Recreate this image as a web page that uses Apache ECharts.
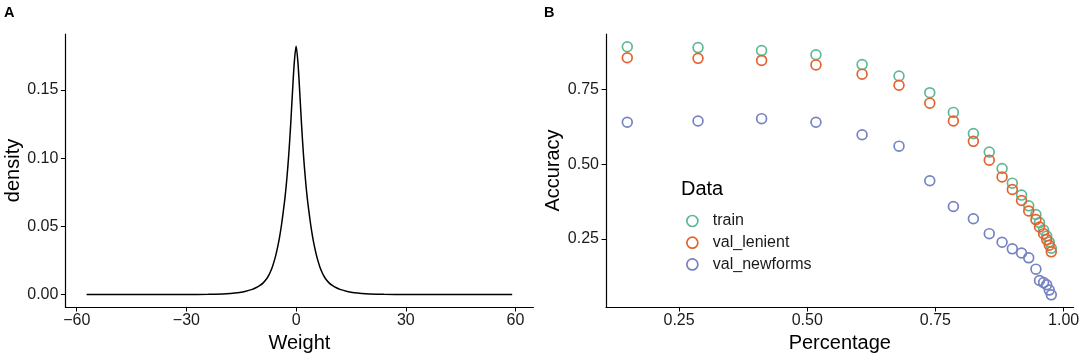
<!DOCTYPE html>
<html>
<head>
<meta charset="utf-8">
<script src="https://cdn.jsdelivr.net/npm/echarts@6.0.0/dist/echarts.min.js"></script>
<style>
  html, body { margin: 0; padding: 0; background: #fff; }
  #chart { width: 1084px; height: 358px; }
</style>
</head>
<body>
<div id="chart"></div>
<script>
// panel A: density of weights (symmetric around 0)
const weight = [-57.3, -40, -30, -24, -20, -18, -16, -14, -12, -11, -10, -9, -8, -7.5, -7, -6.5, -6, -5.5, -5, -4.5, -4, -3.5, -3, -2.5, -2, -1.5, -1, -0.5, 0,
  0.5, 1, 1.5, 2, 2.5, 3, 3.5, 4, 4.5, 5, 5.5, 6, 6.5, 7, 7.5, 8, 9, 10, 11, 12, 14, 16, 18, 20, 24, 30, 40, 59.1]
const density = [0, 0, 0.0001, 0.0002, 0.0005, 0.0008, 0.0013, 0.0023, 0.0038, 0.005, 0.0065, 0.0086, 0.0118, 0.0141, 0.0169, 0.0203, 0.0245, 0.0295, 0.0355, 0.0425, 0.051, 0.061, 0.072, 0.086, 0.103, 0.124, 0.148, 0.170, 0.182,
  0.170, 0.148, 0.124, 0.103, 0.086, 0.072, 0.061, 0.051, 0.0425, 0.0355, 0.0295, 0.0245, 0.0203, 0.0169, 0.0141, 0.0118, 0.0086, 0.0065, 0.005, 0.0038, 0.0023, 0.0013, 0.0008, 0.0005, 0.0002, 0.0001, 0, 0]
const weightTicks = [-60, -30, 0, 30, 60]
const densityTicks = [0, 0.05, 0.1, 0.15]

// panel B: accuracy vs percentage
const percentage = [0.149, 0.287, 0.411, 0.517, 0.607, 0.679, 0.739, 0.785, 0.824, 0.855, 0.880, 0.900, 0.918, 0.932, 0.946, 0.953, 0.961, 0.967, 0.972, 0.976]
const train = [0.894, 0.891, 0.881, 0.867, 0.834, 0.796, 0.740, 0.674, 0.603, 0.541, 0.486, 0.437, 0.397, 0.361, 0.332, 0.305, 0.280, 0.260, 0.240, 0.219]
const valLenient = [0.857, 0.855, 0.848, 0.833, 0.802, 0.765, 0.705, 0.645, 0.577, 0.514, 0.458, 0.416, 0.379, 0.344, 0.315, 0.290, 0.268, 0.248, 0.229, 0.207]
const valNewforms = [0.641, 0.645, 0.653, 0.641, 0.599, 0.561, 0.445, 0.359, 0.318, 0.268, 0.239, 0.217, 0.203, 0.187, 0.149, 0.111, 0.104, 0.097, 0.079, 0.063]
const percentageTicks = [0.25, 0.5, 0.75, 1]
const accuracyTicks = [0.25, 0.5, 0.75]

const seriesNames = ['train', 'val_lenient', 'val_newforms']
const colors = ['#5fb895', '#e5622f', '#7483c2']

const font = 'Liberation Sans, Arial, Helvetica, sans-serif'
const ink = '#1a1a1a'

const zip = (xs, ys) => xs.map((x, i) => [x, ys[i]])

function axis(gridIndex, min, max, ticks, fmt, name, nameGap, labelMargin) {
  return {
    type: 'value',
    gridIndex,
    min,
    max,
    name,
    nameLocation: 'middle',
    nameGap,
    nameTextStyle: {fontFamily: font, fontSize: 20, color: '#000'},
    splitLine: {show: false},
    axisLine: {show: true, onZero: false, lineStyle: {color: '#000', width: 1.2}},
    axisTick: {show: true, length: 4.5, customValues: ticks, lineStyle: {color: '#000', width: 1}},
    axisLabel: {
      customValues: ticks,
      margin: labelMargin,
      fontFamily: font,
      fontSize: 16,
      color: ink,
      formatter: fmt
    }
  }
}

const fmt2 = v => v.toFixed(2)
const fmtInt = v => (v < 0 ? '\u2212' + Math.abs(v) : String(v))

let chart = echarts.init(document.getElementById('chart'), null, {renderer: 'canvas'})

let scatter = (i, ys) => ({
  name: seriesNames[i],
  type: 'scatter',
  xAxisIndex: 1,
  yAxisIndex: 1,
  data: zip(percentage, ys),
  symbol: 'circle',
  symbolSize: 9.8,
  itemStyle: {color: 'transparent', borderColor: colors[i], borderWidth: 1.7, opacity: 1},
  emphasis: {disabled: true},
  z: 2 + i
})

const panelLabel = {fontFamily: font, fontSize: 14.5, fontWeight: 'bold', color: '#000', lineHeight: 14}

chart.setOption({
  animation: false,
  backgroundColor: '#fff',
  title: [
    {text: 'A', left: 4, top: 6, padding: 0, textStyle: panelLabel},
    {text: 'B', left: 544, top: 6, padding: 0, textStyle: panelLabel},
    {text: 'Data', left: 681, top: 179, padding: 0, textStyle: {fontFamily: font, fontSize: 20, fontWeight: 'normal', color: '#000', lineHeight: 20}}
  ],
  legend: {
    orient: 'vertical',
    left: 686,
    top: 213,
    padding: 0,
    itemWidth: 11,
    itemHeight: 11,
    itemGap: 5.7,
    icon: 'circle',
    textStyle: {fontFamily: font, fontSize: 16, color: ink, lineHeight: 16, padding: [0, 0, 0, 10]},
    data: seriesNames.map((n, i) => ({
      name: n,
      itemStyle: {color: 'transparent', borderColor: colors[i], borderWidth: 1.7}
    }))
  },
  grid: [
    {left: 65.4, top: 34, width: 468, height: 273, outerBoundsMode: 'none'},
    {left: 606, top: 34, width: 467.6, height: 273, outerBoundsMode: 'none'}
  ],
  xAxis: [
    axis(0, -63.1, 64.9, weightTicks, fmtInt, 'Weight', 22, 5.5),
    axis(1, 0.1075, 1.0195, percentageTicks, fmt2, 'Percentage', 22, 5.5)
  ],
  yAxis: [
    axis(0, -0.0091, 0.191, densityTicks, fmt2, 'density', 38, 7),
    axis(1, 0.0223, 0.9365, accuracyTicks, fmt2, 'Accuracy', 38, 7)
  ],
  series: [
    {
      name: 'density',
      type: 'line',
      xAxisIndex: 0,
      yAxisIndex: 0,
      data: zip(weight, density),
      showSymbol: false,
      smooth: 0.3,
      lineStyle: {color: '#000', width: 1.5},
      emphasis: {disabled: true}
    },
    scatter(0, train),
    scatter(1, valLenient),
    scatter(2, valNewforms)
  ]
})
</script>
</body>
</html>
